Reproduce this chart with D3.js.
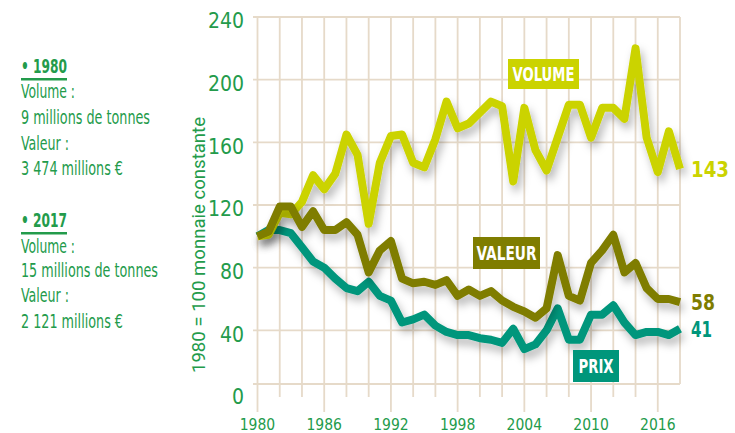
<!DOCTYPE html>
<html><head><meta charset="utf-8">
<script src="https://cdn.jsdelivr.net/npm/d3@7"></script>
<style>
body{margin:0;background:#fff}
svg{display:block}
text{font-family:"Liberation Sans Narrow","DejaVu Sans Condensed","Roboto",sans-serif}
</style>
</head><body>
<svg id="c" width="735" height="433"></svg>
<script>
// ---- data ----
const years = [1980,1981,1982,1983,1984,1985,1986,1987,1988,1989,1990,1991,1992,1993,1994,1995,1996,1997,1998,1999,
               2000,2001,2002,2003,2004,2005,2006,2007,2008,2009,2010,2011,2012,2013,2014,2015,2016,2017,2018];
const volume = [100,101,115,114,122,139,130,140,165,152,108,147,164,165,147,144,162,186,169,172,
                179,186,183,135,182,155,142,163,184,184,163,182,182,175,220,163,141,167,143];
const valeur = [100,103,119,119,106,116,104,104,109,101,77,91,97,73,70,71,69,72,62,66,
                62,65,59,55,52,48,54,88,62,59,83,91,101,77,83,67,60,60,58];
const prix   = [100,104,104,102,93,84,80,73,67,65,71,62,59,45,47,50,43,39,37,37,
                35,34,32,41,28,31,40,54,34,34,50,50,56,45,37,39,39,37,41];
const seriesNames = ["VOLUME","VALEUR","PRIX"];
const gridYears = [1980,1982,1984,1986,1988,1990,1992,1994,1996,1998,2000,2002,2004,2006,2008,2010,2012,2014,2016,2018];
const labelYears = [1980,1986,1992,1998,2004,2010,2016];
const yTicks = [0,40,80,120,160,200,240];
const yAxisTitle = "1980 = 100 monnaie constante";
const panel1980 = ["• 1980","Volume :","9 millions de tonnes","Valeur :","3 474 millions €"];
const panel2017 = ["• 2017","Volume :","15 millions de tonnes","Valeur :","2 121 millions €"];

// ---- styles ----
const green = "#239b4b", gridC = "#e6dac9";
const colors = {VOLUME:"#cbd300", VALEUR:"#7f7d00", PRIX:"#00967b"};

const svg = d3.select("#c");
const defs = svg.append("defs");
const f = defs.append("filter").attr("id","sh").attr("x","-10%").attr("y","-30%").attr("width","130%").attr("height","170%");
f.append("feDropShadow").attr("dx",3).attr("dy",6).attr("stdDeviation",4).attr("flood-color","#000").attr("flood-opacity",0.28);

const x = d3.scaleLinear().domain([1980,2018]).range([257.5,680]);
const y = d3.scaleLinear().domain([0,240]).range([393,17]);
const baseY = y(0) - 9;

// grid
const g = svg.append("g");
g.selectAll("line.h").data(yTicks.filter(d=>d>0)).join("line")
  .attr("x1",253).attr("x2",x(2018)).attr("y1",d=>y(d)).attr("y2",d=>y(d))
  .attr("stroke",gridC).attr("stroke-width",1.8);
g.append("line").attr("x1",253).attr("x2",x(2018)).attr("y1",baseY).attr("y2",baseY)
  .attr("stroke",gridC).attr("stroke-width",1.8);
g.selectAll("line.v").data(gridYears).join("line")
  .attr("x1",d=>x(d)).attr("x2",d=>x(d)).attr("y1",y(240))
  .attr("y2",d=> d===2018 ? baseY : (labelYears.includes(d) ? 412 : 397))
  .attr("stroke",gridC).attr("stroke-width",1.8);

// y tick labels
svg.append("g").selectAll("text").data(yTicks).join("text")
  .attr("x",244).attr("y",d=>y(d)+4).attr("dy","0.35em").attr("text-anchor","end")
  .attr("fill",green).attr("font-size",21).text(d=>d);
// x tick labels
svg.append("g").selectAll("text").data(labelYears).join("text")
  .attr("x",d=>x(d)).attr("y",430).attr("text-anchor","middle")
  .attr("fill",green).attr("font-size",15.5).text(d=>d);
// y axis title
svg.append("text").attr("transform","translate(205,245) rotate(-90)")
  .attr("text-anchor","middle").attr("fill",green).attr("font-size",18)
  .style("font-family","Roboto, sans-serif")
  .attr("textLength",256).attr("lengthAdjust","spacingAndGlyphs").text(yAxisTitle);

// lines
const line = d3.line().x((d,i)=>x(years[i])).y(d=>y(d)).curve(d3.curveLinear);
const data = {VOLUME:volume, VALEUR:valeur, PRIX:prix};
["PRIX","VOLUME","VALEUR"].forEach(k=>{
  svg.append("path").datum(data[k]).attr("d",line).attr("fill","none")
    .attr("stroke",colors[k]).attr("stroke-width",8).attr("stroke-linejoin","round")
    .attr("stroke-linecap","butt").attr("filter","url(#sh)");
});

// series labels boxes
const boxes = {VOLUME:[508,59,71,30,62], VALEUR:[473,237,67,32,60], PRIX:[573,350,46,32,35]};
seriesNames.forEach(k=>{
  const [bx,by,bw,bh,tw] = boxes[k];
  svg.append("rect").attr("x",bx).attr("y",by).attr("width",bw).attr("height",bh).attr("fill",colors[k]);
  svg.append("text").attr("x",bx+bw/2).attr("y",by+bh/2+7).attr("text-anchor","middle")
    .attr("fill","#fff").attr("font-weight","bold").attr("font-size",20)
    .attr("textLength",tw).attr("lengthAdjust","spacingAndGlyphs").text(k);
});

// end labels
const endW = {VOLUME:38, VALEUR:24, PRIX:21};
seriesNames.forEach(k=>{
  const v = data[k][data[k].length-1];
  svg.append("text").attr("x",691).attr("y",y(v)+8).attr("fill",colors[k])
    .attr("font-weight","bold").attr("font-size",22)
    .attr("textLength",endW[k]).attr("lengthAdjust","spacingAndGlyphs").text(v);
});

// left panel
const widths = [46,54,129,48,102];
const widths2 = [46,54,137,48,102];
const baselines1 = [73,98,124,150,175];
const baselines2 = [227,253,277,302,328];
function panel(lines, bl, ws){
  lines.forEach((t,i)=>{
    svg.append("text").attr("x",21).attr("y",bl[i]).attr("fill",green)
      .attr("font-size",19).attr("font-weight", i===0?"bold":"normal")
      .attr("textLength",ws[i]).attr("lengthAdjust","spacingAndGlyphs").text(t);
  });
  svg.append("rect").attr("x",21).attr("y",bl[0]+5).attr("width",ws[0]).attr("height",2.5).attr("fill",green);
}
panel(panel1980, baselines1, widths);
panel(panel2017, baselines2, widths2);
</script>
</body></html>
